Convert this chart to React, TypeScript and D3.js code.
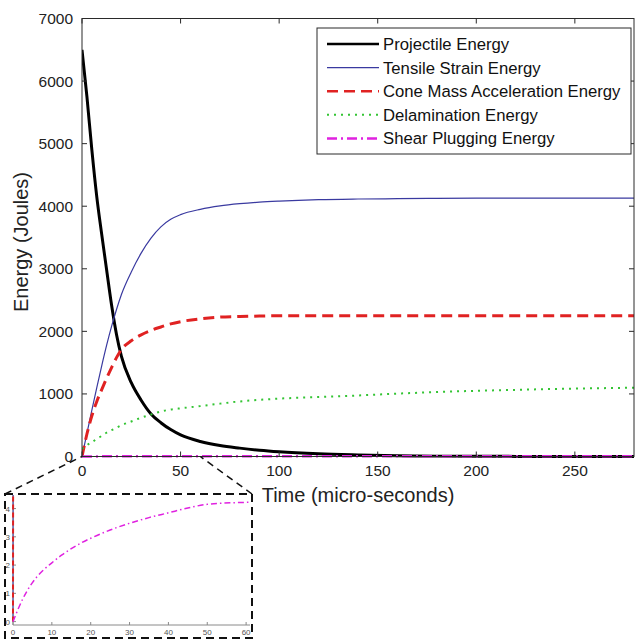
import { useEffect, useRef } from 'react'
import * as d3 from 'd3'

// time samples (micro-seconds) shared by all series
const time = [0, 2.5, 5, 7.5, 10, 12.5, 15, 17.5, 20, 25, 30, 35, 40, 45, 50, 60, 70, 80, 90, 100, 120, 140, 160, 180, 200, 220, 240, 260, 280]

const projectile = [6500, 5750, 4900, 4150, 3550, 2980, 2420, 1950, 1600, 1180, 900, 680, 540, 430, 345, 240, 175, 134, 100, 75, 43, 25, 12, 6, 3, 2, 1, 0, 0]
const tensile = [0, 370, 740, 1100, 1450, 1780, 2080, 2350, 2590, 2950, 3250, 3490, 3670, 3790, 3865, 3950, 4005, 4040, 4065, 4082, 4105, 4115, 4120, 4125, 4128, 4130, 4130, 4130, 4130]
const cone = [0, 360, 650, 880, 1070, 1250, 1420, 1580, 1710, 1850, 1945, 2015, 2070, 2120, 2155, 2200, 2228, 2238, 2245, 2250, 2250, 2250, 2250, 2250, 2250, 2250, 2250, 2250, 2250]
const delamination = [120, 180, 230, 280, 330, 380, 420, 460, 500, 560, 620, 670, 720, 750, 770, 805, 845, 880, 905, 925, 950, 975, 1005, 1030, 1050, 1065, 1080, 1090, 1100]
const shear = [0, 0.8, 1.38, 1.78, 2.08, 2.35, 2.58, 2.78, 2.95, 3.24, 3.48, 3.68, 3.85, 4.02, 4.15, 4.22, 4.24, 4.25, 4.25, 4.25, 4.25, 4.25, 4.25, 4.25, 4.25, 4.25, 4.25, 4.25, 4.25]

const seriesNames = ['Projectile Energy', 'Tensile Strain Energy', 'Cone Mass Acceleration Energy', 'Delamination Energy', 'Shear Plugging Energy']

const xTicks = [0, 50, 100, 150, 200, 250]
const yTicks = [0, 1000, 2000, 3000, 4000, 5000, 6000, 7000]
const insetXTicks = [0, 10, 20, 30, 40, 50, 60]
const insetYTicks = [0, 1, 2, 3, 4]

const STYLES = [
  { color: '#000000', width: 3, dash: null, insetWidth: 2.5, insetDash: null },
  { color: '#3a3aa0', width: 1.2, dash: null, insetWidth: 1, insetDash: null },
  { color: '#e02222', width: 3, dash: '11,6', insetWidth: 2, insetDash: '5,3' },
  { color: '#33c433', width: 2, dash: '2,5', insetWidth: 1.5, insetDash: '1.5,3' },
  { color: '#e022e0', width: 2.5, dash: '10,4,2,4', insetWidth: 1.5, insetDash: '6,3,1.5,3' },
]

const FONT = 'Liberation Sans, Arial, sans-serif'

function App() {
  const svgRef = useRef<SVGSVGElement | null>(null)

  useEffect(() => {
    if (!svgRef.current) return
    const svg = d3.select(svgRef.current)
    svg.selectAll('*').remove()

    const W = 635
    const H = 641
    svg.attr('width', W).attr('height', H)

    const series = [projectile, tensile, cone, delamination, shear]
    const pts = series.map(vals => time.map((t, i) => [t, vals[i]] as [number, number]))

    // main axes
    const x = d3.scaleLinear().domain([0, 280]).range([82, 634])
    const y = d3.scaleLinear().domain([0, 7000]).range([456.5, 18.5])
    const [x0, x1] = x.range()
    const [yb, yt] = y.range()

    const defs = svg.append('defs')
    defs.append('clipPath').attr('id', 'mainClip')
      .append('rect').attr('x', x0).attr('y', yt - 2).attr('width', x1 - x0).attr('height', yb - yt + 4)

    const line = d3.line<[number, number]>()
      .x(d => x(d[0]))
      .y(d => y(d[1]))
      .curve(d3.curveMonotoneX)

    const gLines = svg.append('g').attr('clip-path', 'url(#mainClip)')
    pts.forEach((p, i) => {
      const s = STYLES[i]
      gLines.append('path')
        .datum(p)
        .attr('d', line)
        .attr('fill', 'none')
        .attr('stroke', s.color)
        .attr('stroke-width', s.width)
        .attr('stroke-dasharray', s.dash || 'none')
    })

    // box + inward ticks
    const axisColor = '#2a2a2a'
    svg.append('rect')
      .attr('x', x0).attr('y', yt).attr('width', x1 - x0).attr('height', yb - yt)
      .attr('fill', 'none').attr('stroke', axisColor).attr('stroke-width', 1)

    const tickLen = 5
    xTicks.forEach(t => {
      svg.append('line').attr('x1', x(t)).attr('x2', x(t)).attr('y1', yb).attr('y2', yb - tickLen).attr('stroke', axisColor)
      svg.append('line').attr('x1', x(t)).attr('x2', x(t)).attr('y1', yt).attr('y2', yt + tickLen).attr('stroke', axisColor)
      svg.append('text')
        .attr('x', x(t)).attr('y', yb + 19.5)
        .attr('text-anchor', 'middle')
        .attr('font-family', FONT).attr('font-size', 15.5).attr('fill', '#222')
        .text(t)
    })
    yTicks.forEach(t => {
      svg.append('line').attr('x1', x0).attr('x2', x0 + tickLen).attr('y1', y(t)).attr('y2', y(t)).attr('stroke', axisColor)
      svg.append('line').attr('x1', x1).attr('x2', x1 - tickLen).attr('y1', y(t)).attr('y2', y(t)).attr('stroke', axisColor)
      svg.append('text')
        .attr('x', x0 - 9).attr('y', y(t) + 5.5)
        .attr('text-anchor', 'end')
        .attr('font-family', FONT).attr('font-size', 15.5).attr('fill', '#222')
        .text(t)
    })

    svg.append('text')
      .attr('x', 358).attr('y', 502)
      .attr('text-anchor', 'middle')
      .attr('font-family', FONT).attr('font-size', 20).attr('fill', '#222')
      .text('Time (micro-seconds)')

    svg.append('text')
      .attr('transform', 'translate(28,242) rotate(-90)')
      .attr('text-anchor', 'middle')
      .attr('font-family', FONT).attr('font-size', 20).attr('fill', '#222')
      .text('Energy (Joules)')

    // legend
    const legend = svg.append('g')
    legend.append('rect')
      .attr('x', 317).attr('y', 28).attr('width', 314).attr('height', 126)
      .attr('fill', '#fff').attr('stroke', axisColor).attr('stroke-width', 1)
    seriesNames.forEach((name, i) => {
      const s = STYLES[i]
      const cy = 44 + i * 23.6
      legend.append('line')
        .attr('x1', 327).attr('x2', 379).attr('y1', cy).attr('y2', cy)
        .attr('stroke', s.color)
        .attr('stroke-width', Math.min(s.width, 2.5))
        .attr('stroke-dasharray', s.dash || 'none')
      legend.append('text')
        .attr('x', 383).attr('y', cy + 6)
        .attr('font-family', FONT).attr('font-size', 16.7).attr('fill', '#111')
        .text(name)
    })

    // inset (zoom of the first 60 us)
    const border = { left: 5, top: 494, right: 252, bottom: 638 }
    const xi = d3.scaleLinear().domain([0, 61]).range([13, 250])
    const yi = d3.scaleLinear().domain([-0.12, 4.48]).range([625, 495])
    const [xi0, xi1] = xi.range()
    const [yib, yit] = yi.range()

    // connector lines to main chart
    svg.append('line')
      .attr('x1', border.left).attr('y1', border.top).attr('x2', x(0)).attr('y2', y(0))
      .attr('stroke', '#111').attr('stroke-width', 1.5).attr('stroke-dasharray', '7,5')
    svg.append('line')
      .attr('x1', border.right).attr('y1', border.top).attr('x2', x(60)).attr('y2', y(0))
      .attr('stroke', '#111').attr('stroke-width', 1.5).attr('stroke-dasharray', '7,5')

    const inset = svg.append('g')
    inset.append('rect')
      .attr('x', border.left).attr('y', border.top)
      .attr('width', border.right - border.left).attr('height', border.bottom - border.top)
      .attr('fill', '#fff')

    defs.append('clipPath').attr('id', 'insetClip')
      .append('rect').attr('x', xi0 - 2).attr('y', yit)
      .attr('width', xi1 - xi0 + 2).attr('height', yib - yit)

    const insetAxis = '#8a8a8a'
    inset.append('line')
      .attr('x1', xi0).attr('x2', xi0).attr('y1', yib).attr('y2', yit)
      .attr('stroke', insetAxis)
    inset.append('line')
      .attr('x1', xi0).attr('x2', xi1).attr('y1', yib).attr('y2', yib)
      .attr('stroke', insetAxis)
    insetXTicks.forEach(t => {
      inset.append('line').attr('x1', xi(t)).attr('x2', xi(t)).attr('y1', yib).attr('y2', yib - 3).attr('stroke', insetAxis)
      inset.append('text')
        .attr('x', xi(t)).attr('y', yib + 10)
        .attr('text-anchor', 'middle')
        .attr('font-family', FONT).attr('font-size', 8).attr('fill', '#555')
        .text(t)
    })
    insetYTicks.forEach(t => {
      inset.append('line').attr('x1', xi0).attr('x2', xi0 + 3).attr('y1', yi(t)).attr('y2', yi(t)).attr('stroke', insetAxis)
      inset.append('text')
        .attr('x', xi0 - 3).attr('y', yi(t) + 3)
        .attr('text-anchor', 'end')
        .attr('font-family', FONT).attr('font-size', 8).attr('fill', '#555')
        .text(t)
    })

    const lineInset = d3.line<[number, number]>()
      .x(d => xi(d[0]))
      .y(d => yi(d[1]))
      .curve(d3.curveMonotoneX)

    const gInset = inset.append('g').attr('clip-path', 'url(#insetClip)')
    pts.forEach((p, i) => {
      const s = STYLES[i]
      gInset.append('path')
        .datum(p.filter(d => d[0] <= 70))
        .attr('d', lineInset)
        .attr('fill', 'none')
        .attr('stroke', s.color)
        .attr('stroke-width', s.insetWidth)
        .attr('stroke-dasharray', s.insetDash || 'none')
    })

    inset.append('rect')
      .attr('x', border.left).attr('y', border.top)
      .attr('width', border.right - border.left).attr('height', border.bottom - border.top)
      .attr('fill', 'none').attr('stroke', '#111').attr('stroke-width', 2).attr('stroke-dasharray', '8,5')
  }, [])

  return (
    <svg ref={svgRef} style={{ position: 'absolute', left: 0, top: 0, background: '#fff' }} />
  )
}

export default App
